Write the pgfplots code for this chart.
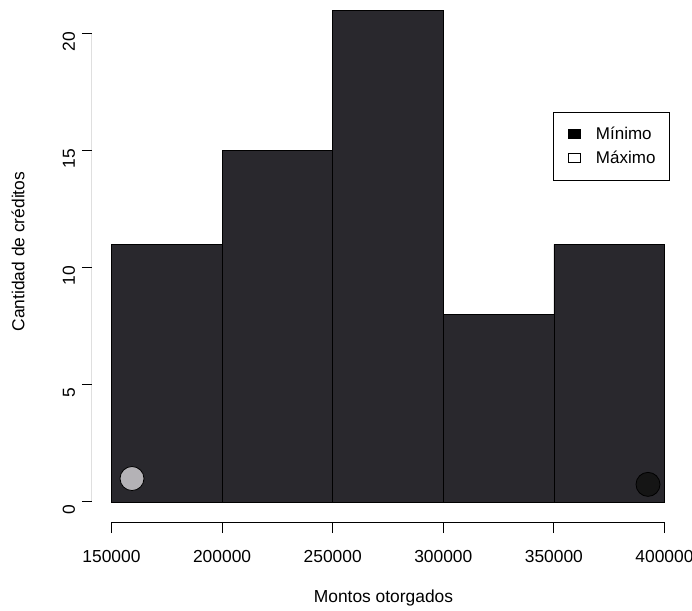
\documentclass[border=0pt]{standalone}
\usepackage{pgfplots}
\pgfplotsset{compat=1.18}
\usepackage{fontspec}
\setmainfont{Liberation Sans}
\definecolor{barfill}{HTML}{29282D}
\definecolor{maxgray}{HTML}{B4B2B6}
\definecolor{mindark}{HTML}{151515}
\newcommand{\rfont}{\fontsize{8.7}{10.4}\selectfont}
\begin{document}
\begin{tikzpicture}
\begin{axis}[
    scale only axis,
    width=291.5pt, height=261pt,
    xmin=141184, xmax=404747,
    ymin=-0.9, ymax=21.4,
    axis x line*=bottom, axis y line*=left,
    axis line style={draw=none},
    tick align=outside,
    major tick length=5pt,
    tick style={black, line width=0.5pt},
    xtick={150000,200000,250000,300000,350000,400000},
    ytick={0,5,10,15,20},
    scaled x ticks=false,
    /pgf/number format/fixed,
    /pgf/number format/1000 sep={},
    /pgf/number format/assume math mode=true,
    tick label style={font=\rfont},
    xticklabel style={yshift=-5pt},
    yticklabel style={rotate=90, anchor=south, xshift=-3.8pt},
    xlabel={Montos otorgados},
    ylabel={Cantidad de créditos},
    label style={font=\rfont},
    xlabel style={at={(axis description cs:0.5,-0.144)}, anchor=center},
    ylabel style={at={(axis description cs:-0.127,0.52)}, anchor=center},
    legend image code/.code={\draw[#1, line width=0.5pt] (0pt,-2.1pt) rectangle (6.2pt,2.4pt);},
    legend style={at={(axis description cs:0.9914,0.787)}, anchor=north east,
        draw=black, line width=0.5pt, font=\fontsize{8.5}{10}\selectfont,
        inner xsep=7pt, inner ysep=7pt, row sep=4.3pt, column sep=0pt,
        nodes={inner sep=0pt}},
    /tikz/every odd column/.append style={column sep=7.5pt},
    legend cell align=left,
]

% histograma
\addplot[ybar interval, fill=barfill, draw=black, line width=0.4pt, forget plot]
    coordinates {
    (150000,11) (200000,15) (250000,21) (300000,8) (350000,11) (400000,11)
    };

% maximo y minimo
\addplot[only marks, mark=*, mark size=6pt,
    mark options={fill=maxgray, draw=none}, forget plot]
    coordinates {(159268,1.0)};
\addplot[only marks, mark=*, mark size=6pt,
    mark options={fill=mindark, draw=none}, forget plot]
    coordinates {(392540,0.75)};

\addlegendimage{fill=black, draw=black}
\addlegendentry{Mínimo}
\addlegendimage{fill=white, draw=black}
\addlegendentry{Máximo}

% ejes al estilo de R
\draw[line width=0.5pt] (axis cs:150000,-0.9) -- (axis cs:400000,-0.9);
\draw[line width=0.5pt] (axis cs:141184,0) -- (axis cs:141184,20);
\end{axis}
\pgfresetboundingbox
\path[use as bounding box] ([xshift=-46pt,yshift=-44pt]current axis.south west)
    rectangle ([xshift=8.5pt,yshift=0.5pt]current axis.north east);
\end{tikzpicture}
\end{document}
